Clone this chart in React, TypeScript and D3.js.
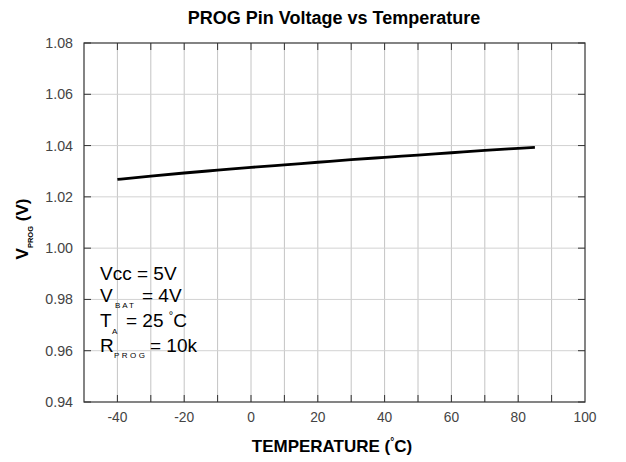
import React from "react";
import * as d3 from "d3";

const temps = [-40, -30, -20, -10, 0, 10, 20, 30, 40, 50, 60, 70, 80, 85];
const vprog = [1.0268, 1.0281, 1.0293, 1.0304, 1.0315, 1.0325, 1.0335, 1.0345, 1.0354, 1.0363, 1.0372, 1.0381, 1.0389, 1.0393];
const xTicks = [-40, -20, 0, 20, 40, 60, 80, 100];
const xGrid = [-40, -30, -20, -10, 0, 10, 20, 30, 40, 50, 60, 70, 80, 90];
const yTicks = [0.94, 0.96, 0.98, 1.0, 1.02, 1.04, 1.06, 1.08];

const W = 626, H = 462;
const L = 84, R = 585, T = 43, B = 402;
const FONT = "'Liberation Sans', Arial, sans-serif";

export default function App() {
  const x = d3.scaleLinear().domain([-50, 100]).range([L, R]);
  const y = d3.scaleLinear().domain([0.94, 1.08]).range([B, T]);
  const line = d3.line<number>().x((_, i) => x(temps[i])).y((d) => y(d)).curve(d3.curveMonotoneX);
  return (
    <svg width={W} height={H} style={{ position: "absolute", left: 0, top: 0, background: "#fff" }} fontFamily={FONT}>
      <rect x={0} y={0} width={W} height={H} fill="#fff" />
      {xGrid.map((t) => (
        <line key={"gx" + t} x1={x(t)} x2={x(t)} y1={T} y2={B} stroke="#c4c4c4" strokeWidth={1} />
      ))}
      {yTicks.slice(1, -1).map((t) => (
        <line key={"gy" + t} x1={L} x2={R} y1={y(t)} y2={y(t)} stroke="#d2d2d2" strokeWidth={1} />
      ))}
      {xGrid.map((t) => (
        <g key={"tx" + t}>
          <line x1={x(t)} x2={x(t)} y1={B} y2={B - 7} stroke="#333" />
          <line x1={x(t)} x2={x(t)} y1={T} y2={T + 7} stroke="#333" />
        </g>
      ))}
      {yTicks.map((t) => (
        <g key={"ty" + t}>
          <line x1={L} x2={L + 7} y1={y(t)} y2={y(t)} stroke="#333" />
          <line x1={R} x2={R - 7} y1={y(t)} y2={y(t)} stroke="#333" />
        </g>
      ))}
      <rect x={L} y={T} width={R - L} height={B - T} fill="none" stroke="#333" strokeWidth={1.2} />
      <path d={line(vprog) || ""} fill="none" stroke="#000" strokeWidth={2.8} />
      {xTicks.map((t) => (
        <text key={"lx" + t} transform={`translate(${x(t)},${B + 20}) scale(0.92,1)`} textAnchor="middle" fontSize={15} fill="#444">{t}</text>
      ))}
      {yTicks.map((t) => (
        <text key={"ly" + t} transform={`translate(${L - 11},${y(t) + 5}) scale(0.95,1)`} textAnchor="end" fontSize={15} fill="#444">{t.toFixed(2)}</text>
      ))}
      <text x={334} y={24} textAnchor="middle" fontSize={18} fontWeight="bold">PROG Pin Voltage vs Temperature</text>
      <text x={332} y={452} textAnchor="middle" fontSize={17} fontWeight="bold">TEMPERATURE (<tspan fontSize={10} dy={-7}>°</tspan><tspan dy={7}>C)</tspan></text>
      <g transform="translate(28,229) rotate(-90)">
        <text textAnchor="middle" fontSize={17} fontWeight="bold">V<tspan fontSize={7.5} dy={5}>PROG</tspan><tspan dy={-5}> (V)</tspan></text>
      </g>
      <g fontSize={19} fill="#000">
        <text x={100} y={280}>Vcc = 5V</text>
        <text x={100} y={302}>V</text>
        <text x={115} y={308} fontSize={8} letterSpacing={2}>BAT</text>
        <text x={142} y={302}>= 4V</text>
        <text x={100} y={327}>T</text>
        <text x={112} y={334} fontSize={8}>A</text>
        <text x={126} y={327}>= 25 <tspan fontSize={11} dy={-8}>°</tspan><tspan dy={8}>C</tspan></text>
        <text x={100} y={352}>R</text>
        <text x={114} y={358} fontSize={8} letterSpacing={2.5}>PROG</text>
        <text x={150} y={352}>= 10k</text>
      </g>
    </svg>
  );
}
